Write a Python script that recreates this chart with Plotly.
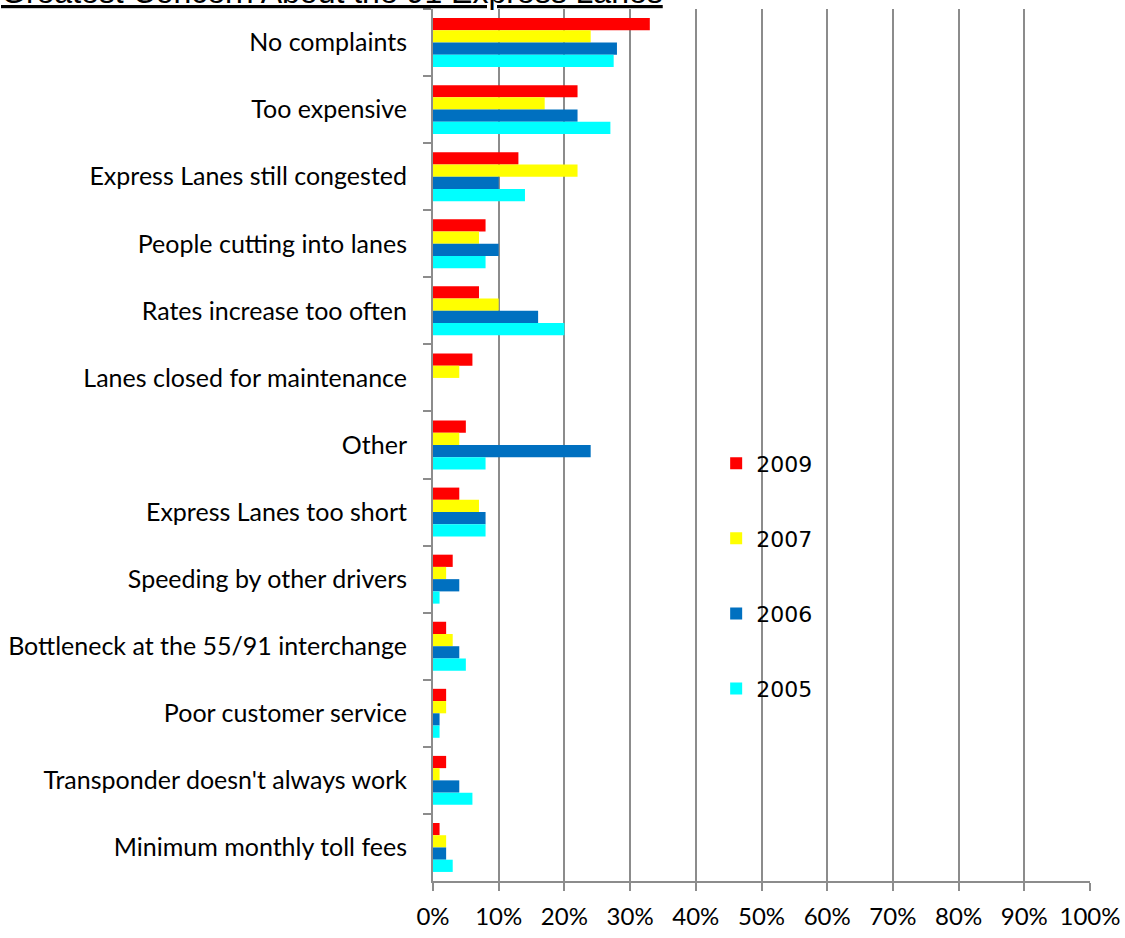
import plotly.graph_objects as go

categories = [
    "No complaints",
    "Too expensive",
    "Express Lanes still congested",
    "People cutting into lanes",
    "Rates increase too often",
    "Lanes closed for maintenance",
    "Other",
    "Express Lanes too short",
    "Speeding by other drivers",
    "Bottleneck at the 55/91 interchange",
    "Poor customer service",
    "Transponder doesn't always work",
    "Minimum monthly toll fees",
]

v2009 = [33, 22, 13, 8, 7, 6, 5, 4, 3, 2, 2, 2, 1]
v2007 = [24, 17, 22, 7, 10, 4, 4, 7, 2, 3, 2, 1, 2]
v2006 = [28, 22, 10, 10, 16, 0, 24, 8, 4, 4, 1, 4, 2]
v2005 = [27.5, 27, 14, 8, 20, 0, 8, 8, 1, 5, 1, 6, 3]

series = [
    ("2009", v2009, "#FF0000"),
    ("2007", v2007, "#FFFF00"),
    ("2006", v2006, "#0070C0"),
    ("2005", v2005, "#00FFFF"),
]

fig = go.Figure()
for name, vals, color in series:
    fig.add_trace(go.Bar(
        y=categories, x=vals, name=name, orientation="h",
        marker=dict(color=color, line=dict(width=0)),
        legendgroup=name,
    ))

grid = "#8c8c8c"
fig.update_layout(
    width=1125, height=938,
    margin=dict(l=433, r=35, t=9, b=57, autoexpand=False),
    paper_bgcolor="white", plot_bgcolor="white",
    barmode="group", bargap=0.27, bargroupgap=0,
    font=dict(family="Lato, sans-serif", size=24, color="black"),
    showlegend=True,
    legend=dict(
        x=0.431, y=0.503, xanchor="left", yanchor="top",
        font=dict(family="DejaVu Sans, sans-serif", size=22, color="black"),
        tracegroupgap=43.5, bgcolor="rgba(0,0,0,0)",
    ),
    xaxis=dict(
        range=[0, 100], dtick=10, ticksuffix="%",
        showgrid=True, gridcolor=grid, gridwidth=2,
        showline=True, linecolor=grid, linewidth=2,
        ticks="outside", ticklen=8, tickwidth=2, tickcolor=grid,
        ticklabelstandoff=5, zeroline=False,
        tickfont=dict(family="Lato, sans-serif", size=24),
    ),
    yaxis=dict(
        autorange="reversed", type="category",
        showline=True, linecolor=grid, linewidth=2,
        ticks="outside", ticklen=8, tickwidth=2, tickcolor=grid,
        tickson="boundaries", ticklabelstandoff=19,
        showgrid=False, automargin=False,
        tickfont=dict(family="Lato, sans-serif", size=25),
    ),
    annotations=[dict(
        text="<u>Greatest Concern About the 91 Express Lanes</u>",
        xref="paper", yref="paper", x=-0.661, y=1, xanchor="left", yanchor="bottom",
        yshift=-3, showarrow=False,
        font=dict(family="Liberation Sans, Arial, sans-serif", size=32, color="black"),
    )],
)

fig.write_html("out.html", config={"displayModeBar": False},
               post_script="document.body.style.margin='0';")
